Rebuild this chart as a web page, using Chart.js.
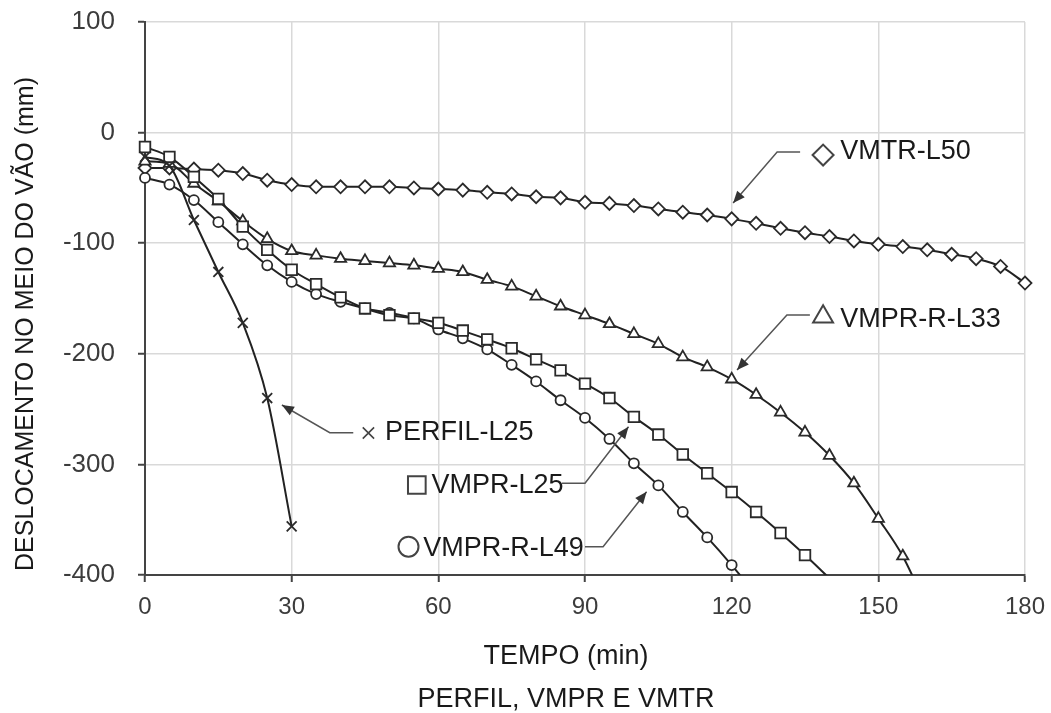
<!DOCTYPE html>
<html lang="pt">
<head>
<meta charset="UTF-8">
<title>Deslocamento no meio do vão</title>
<script src="https://cdn.jsdelivr.net/npm/chart.js"></script>
<style>
  body { margin: 0; background: #fff; }
  canvas { display: block; }
</style>
</head>
<body>
<canvas id="grafico" width="1051" height="713"></canvas>
<script>
// tempo (min), one reading every 5 minutes
const tempo = [0, 5, 10, 15, 20, 25, 30, 35, 40, 45, 50, 55, 60, 65, 70, 75, 80, 85, 90,
  95, 100, 105, 110, 115, 120, 125, 130, 135, 140, 145, 150, 155, 160, 165, 170, 175, 180];

// deslocamento (mm); last value of some series lies under the axis
const perfilL25 = [-22, -30, -79, -126, -172, -240, -356];
const vmprL25 = [-13, -22, -40, -60, -85, -106, -124, -137, -149, -159, -165, -168, -172,
  -179, -187, -195, -205, -215, -227, -240, -257, -273, -291, -308, -325, -343, -362, -382, -403];
const vmprRL49 = [-41, -47, -61, -81, -101, -120, -135, -146, -153, -159, -163, -168, -178,
  -186, -196, -210, -225, -242, -258, -277, -299, -319, -343, -366, -391, -418];
const vmprRL33 = [-26, -28, -46, -62, -80, -96, -107, -111, -114, -116, -118, -120, -123,
  -126, -133, -139, -148, -157, -165, -173, -182, -191, -203, -212, -223, -237, -253, -271,
  -292, -317, -349, -383, -430];
const vmtrL50 = [-32, -32, -33, -34, -37, -43, -47, -49, -49, -49, -49, -50, -51, -52, -54,
  -55.5, -58, -59, -63, -64, -66, -69, -72, -74.5, -78, -82, -86.5, -90.5, -94, -98, -101,
  -103, -106, -110, -114, -121, -136];

const ticksX = [0, 30, 60, 90, 120, 150, 180];
const ticksY = [100, 0, -100, -200, -300, -400];

// labels with a symbol and a leader arrow, all in data units (min, mm)
const notas = [
  { texto: 'VMTR-L50', estilo: 'rectRot', raio: 10.5, sx: 138.7, sy: -20.3, tx: 142.2, ty: -17.3,
    seta: [[134, -17.5], [129.3, -17.5], [120.3, -63.7]] },
  { texto: 'VMPR-R-L33', estilo: 'triangle', raio: 11.5, sx: 138.7, sy: -166.5, tx: 142.2, ty: -169.4,
    seta: [[136, -165], [131.3, -165], [121.1, -214.6]] },
  { texto: 'PERFIL-L25', estilo: 'crossRot', raio: 8, sx: 45.7, sy: -271.6, tx: 49.1, ty: -271.2,
    seta: [[42.6, -271.3], [37.8, -271.3], [28, -246.3]] },
  { texto: 'VMPR-L25', estilo: 'rect', raio: 12.5, sx: 55.6, sy: -318.6, tx: 58.6, ty: -319.5,
    seta: [[85.3, -317], [90, -317], [98.9, -266]] },
  { texto: 'VMPR-R-L49', estilo: 'circle', raio: 10, sx: 53.9, sy: -374.4, tx: 56.9, ty: -375.9,
    seta: [[90, -374.4], [93.7, -374.4], [102.6, -324.7]] }
];

const FONTE = '"Liberation Sans", Arial, Helvetica, sans-serif';
const pontos = ys => ys.map((y, i) => ({ x: tempo[i], y: y }));

function serie(nome, ys, estilo, raio) {
  return {
    label: nome,
    data: pontos(ys),
    borderColor: '#222',
    borderWidth: 2,
    pointStyle: estilo,
    pointRadius: ctx => (ctx.raw && ctx.raw.y < -400 ? 0 : raio),
    pointBackgroundColor: '#fff',
    pointBorderColor: '#2a2a2a',
    pointBorderWidth: 1.8,
    cubicInterpolationMode: 'monotone',
    clip: { left: 14, right: 14, top: 14, bottom: 0 }
  };
}

const anotacoes = {
  id: 'anotacoes',
  afterDatasetsDraw(chart) {
    const { ctx, scales: { x, y } } = chart;
    ctx.save();
    notas.forEach(n => {
      const p = n.seta.map(([a, b]) => [x.getPixelForValue(a), y.getPixelForValue(b)]);
      ctx.strokeStyle = '#555';
      ctx.lineWidth = 1.5;
      ctx.beginPath();
      ctx.moveTo(p[0][0], p[0][1]);
      for (let i = 1; i < p.length; i++) ctx.lineTo(p[i][0], p[i][1]);
      ctx.stroke();
      // arrow head
      const [x1, y1] = p[p.length - 2];
      const [x2, y2] = p[p.length - 1];
      const ang = Math.atan2(y2 - y1, x2 - x1);
      ctx.fillStyle = '#333';
      ctx.beginPath();
      ctx.moveTo(x2, y2);
      ctx.lineTo(x2 - 12 * Math.cos(ang) + 5 * Math.sin(ang), y2 - 12 * Math.sin(ang) - 5 * Math.cos(ang));
      ctx.lineTo(x2 - 12 * Math.cos(ang) - 5 * Math.sin(ang), y2 - 12 * Math.sin(ang) + 5 * Math.cos(ang));
      ctx.closePath();
      ctx.fill();

      // symbol
      ctx.fillStyle = '#fff';
      ctx.strokeStyle = '#444';
      ctx.lineWidth = n.estilo === 'crossRot' ? 1.6 : 2;
      Chart.helpers.drawPoint(ctx, { pointStyle: n.estilo, radius: n.raio, borderWidth: ctx.lineWidth, rotation: 0 },
        x.getPixelForValue(n.sx), y.getPixelForValue(n.sy));

      ctx.fillStyle = '#1a1a1a';
      ctx.font = '27px ' + FONTE;
      ctx.textAlign = 'left';
      ctx.textBaseline = 'middle';
      ctx.fillText(n.texto, x.getPixelForValue(n.tx), y.getPixelForValue(n.ty));
    });

    // axis titles
    ctx.fillStyle = '#1a1a1a';
    ctx.textAlign = 'center';
    ctx.textBaseline = 'middle';
    ctx.font = '27px ' + FONTE;
    ctx.fillText('TEMPO (min)', 566, 657);
    ctx.fillText('PERFIL, VMPR E VMTR', 566, 700);
    ctx.font = '25px ' + FONTE;
    ctx.translate(26, 324);
    ctx.rotate(-Math.PI / 2);
    ctx.fillText('DESLOCAMENTO NO MEIO DO VÃO (mm)', 0, 0);
    ctx.restore();
  }
};

new Chart(document.getElementById('grafico'), {
  type: 'line',
  data: {
    datasets: [
      serie('PERFIL-L25', perfilL25, 'crossRot', 7),
      serie('VMPR-L25', vmprL25, 'rect', 7.5),
      serie('VMPR-R-L49', vmprRL49, 'circle', 5),
      serie('VMPR-R-L33', vmprRL33, 'triangle', 6.5),
      serie('VMTR-L50', vmtrL50, 'rectRot', 6.5)
    ]
  },
  options: {
    responsive: false,
    animation: false,
    devicePixelRatio: 1,
    layout: { padding: { top: 22, right: 26, bottom: 0, left: 0 } },
    plugins: {
      legend: { display: false },
      tooltip: { enabled: false }
    },
    scales: {
      x: {
        type: 'linear',
        min: 0,
        max: 180,
        afterBuildTicks: s => { s.ticks = ticksX.map(v => ({ value: v })); },
        afterFit: s => { s.height = 138; s.paddingLeft = 0; s.paddingRight = 0; },
        ticks: { font: { size: 24, family: FONTE }, color: '#3c3c3c', padding: 11, maxRotation: 0 },
        grid: { color: '#d9d9d9', lineWidth: 1.5, tickColor: '#444', tickLength: 7, tickWidth: 2 },
        border: { color: '#444', width: 2 }
      },
      y: {
        min: -400,
        max: 100,
        afterBuildTicks: s => { s.ticks = ticksY.map(v => ({ value: v })); },
        afterFit: s => { s.width = 145; s.paddingTop = 0; s.paddingBottom = 0; },
        ticks: { font: { size: 26, family: FONTE }, color: '#3c3c3c', padding: 23 },
        grid: { color: '#d9d9d9', lineWidth: 1.5, tickColor: '#444', tickLength: 7, tickWidth: 2 },
        border: { color: '#444', width: 2 }
      }
    }
  },
  plugins: [anotacoes]
});
</script>
</body>
</html>
